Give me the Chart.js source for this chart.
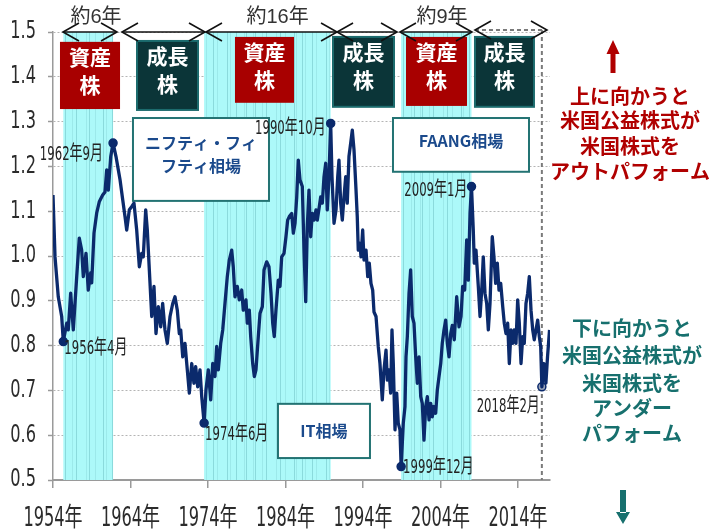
<!DOCTYPE html>
<html>
<head>
<meta charset="utf-8">
<script src="https://cdn.jsdelivr.net/npm/chart.js@4.4.1/dist/chart.umd.min.js"></script>
<style>
  body { margin: 0; background: #fff; }
  canvas { display: block; }
</style>
</head>
<body>
<canvas id="chart" width="726" height="531"></canvas>
<script>
// 米国公益株式 / 米国株式 (相対株価)
var years = [
  1955.00, 1955.26, 1955.68, 1956.12, 1956.33, 1956.77, 1956.97, 1957.28, 1957.62, 1958.06,
  1958.39, 1958.70, 1958.91, 1959.26, 1959.55, 1959.86, 1959.99, 1960.29, 1960.64, 1960.97,
  1961.41, 1961.71, 1961.93, 1962.14, 1962.45, 1962.75, 1963.13, 1963.43, 1963.65, 1964.00,
  1964.29, 1964.51, 1964.85, 1965.15, 1965.45, 1965.80, 1966.14, 1966.45, 1966.65, 1966.96,
  1967.17, 1967.43, 1967.74, 1968.03, 1968.29, 1968.59, 1968.90, 1969.15, 1969.45, 1969.75,
  1970.10, 1970.45, 1970.74, 1971.04, 1971.30, 1971.48, 1971.74, 1972.03, 1972.33, 1972.59,
  1972.90, 1973.19, 1973.41, 1973.67, 1973.97, 1974.19, 1974.50, 1974.74, 1975.04, 1975.35,
  1975.61, 1975.90, 1976.12, 1976.33, 1976.64, 1976.90, 1977.19, 1977.49, 1977.75, 1978.06,
  1978.26, 1978.48, 1978.78, 1979.04, 1979.35, 1979.55, 1979.90, 1980.07, 1980.33, 1980.51,
  1980.77, 1980.98, 1981.19, 1981.49, 1981.71, 1982.01, 1982.23, 1982.57, 1982.87, 1983.13,
  1983.35, 1983.55, 1983.77, 1984.07, 1984.29, 1984.51, 1984.81, 1985.06, 1985.28, 1985.49,
  1985.80, 1986.01, 1986.23, 1986.45, 1986.65, 1986.87, 1987.17, 1987.39, 1987.61, 1987.81,
  1988.03, 1988.25, 1988.46, 1988.68, 1988.94, 1989.10, 1989.36, 1989.54, 1989.75, 1989.97,
  1990.19, 1990.39, 1990.61, 1990.83, 1991.00, 1991.26, 1991.52, 1991.74, 1991.90, 1992.12,
  1992.33, 1992.55, 1992.77, 1992.97, 1993.19, 1993.41, 1993.62, 1993.84, 1994.10, 1994.26,
  1994.39, 1994.61, 1994.74, 1994.96, 1995.13, 1995.39, 1995.61, 1995.81, 1996.03, 1996.25,
  1996.42, 1996.68, 1996.97, 1997.19, 1997.49, 1997.71, 1997.97, 1998.14, 1998.35, 1998.57,
  1998.74, 1998.91, 1999.13, 1999.35, 1999.55, 1999.77, 1999.92, 2000.20, 2000.42, 2000.55,
  2000.72, 2000.94, 2001.15, 2001.36, 2001.58, 2001.80, 2002.01, 2002.23, 2002.45, 2002.65,
  2002.87, 2003.09, 2003.30, 2003.52, 2003.74, 2003.94, 2004.16, 2004.38, 2004.59, 2004.81,
  2005.03, 2005.23, 2005.45, 2005.67, 2005.88, 2006.10, 2006.32, 2006.52, 2006.78, 2007.09,
  2007.39, 2007.65, 2007.86, 2008.12, 2008.38, 2008.59, 2008.81, 2009.00, 2009.23, 2009.36,
  2009.58, 2009.88, 2010.10, 2010.32, 2010.52, 2010.74, 2010.96, 2011.17, 2011.39, 2011.68,
  2011.90, 2012.12, 2012.33, 2012.55, 2012.77, 2013.03, 2013.23, 2013.45, 2013.67, 2013.88,
  2014.10, 2014.32, 2014.52, 2014.74, 2014.96, 2015.17, 2015.39, 2015.61, 2015.81, 2016.03,
  2016.25, 2016.46, 2016.68, 2016.90, 2017.10, 2017.32, 2017.54, 2017.75, 2017.93, 2018.08,
  2018.35, 2018.60, 2018.81, 2019.07
];
var ratio = [
  1.136, 0.998, 0.909, 0.865, 0.809, 0.850, 0.835, 0.917, 0.835, 0.954,
  1.040, 1.013, 0.954, 1.006, 0.924, 0.962, 0.940, 1.051, 1.096, 1.121,
  1.136, 1.143, 1.192, 1.147, 1.222, 1.252, 1.222, 1.192, 1.170, 1.125,
  1.088, 1.058, 1.103, 1.110, 1.118, 1.058, 0.976, 1.006, 0.998, 1.103,
  1.058, 0.969, 0.865, 0.932, 0.827, 0.887, 0.842, 0.894, 0.835, 0.805,
  0.865, 0.894, 0.909, 0.879, 0.827, 0.835, 0.775, 0.805, 0.746, 0.694,
  0.760, 0.716, 0.753, 0.708, 0.746, 0.686, 0.627, 0.701, 0.746, 0.679,
  0.760, 0.731, 0.798, 0.746, 0.805, 0.835, 0.894, 0.954, 0.991, 1.013,
  0.976, 0.909, 0.932, 0.902, 0.924, 0.879, 0.902, 0.850, 0.879, 0.820,
  0.760, 0.731, 0.746, 0.820, 0.872, 0.887, 0.969, 0.987, 0.976, 0.917,
  0.850, 0.820, 0.879, 0.946, 0.932, 0.998, 1.006, 1.043, 1.080, 1.088,
  1.095, 1.051, 1.073, 1.132, 1.214, 1.170, 1.155, 1.013, 0.898, 1.065,
  1.147, 1.043, 1.095, 1.080, 1.103, 1.080, 1.110, 1.132, 1.118, 1.177,
  1.207, 1.103, 1.177, 1.296, 1.177, 1.073, 1.103, 1.177, 1.214, 1.118,
  1.080, 1.132, 1.177, 1.118, 1.222, 1.252, 1.281, 1.237, 1.147, 1.088,
  1.013, 1.028, 0.998, 1.058, 0.991, 1.013, 0.954, 0.984, 0.939, 0.924,
  0.875, 0.865, 0.798, 0.760, 0.679, 0.746, 0.790, 0.723, 0.746, 0.694,
  0.835, 0.760, 0.612, 0.694, 0.627, 0.612, 0.530, 0.627, 0.664, 0.775,
  0.820, 0.917, 0.969, 0.865, 0.850, 0.775, 0.716, 0.775, 0.686, 0.671,
  0.589, 0.664, 0.686, 0.634, 0.671, 0.641, 0.664, 0.649, 0.701, 0.731,
  0.760, 0.805, 0.835, 0.857, 0.805, 0.775, 0.827, 0.845, 0.813, 0.909,
  0.842, 0.865, 0.932, 0.924, 1.036, 0.946, 1.095, 1.155, 1.058, 0.984,
  1.013, 0.932, 0.865, 0.924, 0.998, 0.917, 0.894, 0.835, 0.894, 1.043,
  0.998, 0.939, 0.984, 0.924, 0.939, 0.887, 0.850, 0.827, 0.850, 0.760,
  0.835, 0.805, 0.835, 0.805, 0.902, 0.850, 0.760, 0.820, 0.805, 0.894,
  0.917, 0.954, 0.879, 0.835, 0.813, 0.835, 0.857, 0.820, 0.798, 0.708,
  0.760, 0.716, 0.775, 0.835
];

var xTickYears = [1955, 1965, 1975, 1985, 1995, 2005, 2015];
var xTickLabels = ['1954年', '1964年', '1974年', '1984年', '1994年', '2004年', '2014年'];
var yTicks = [0.5, 0.6, 0.7, 0.8, 0.9, 1.0, 1.1, 1.2, 1.3, 1.4, 1.5];

// 公益株が優勢だった期間
var bandStart = [1956.33, 1974.5, 1999.92];
var bandEnd = [1962.75, 1990.83, 2009.0];

// 山と谷
var markYears = [1956.33, 1962.75, 1974.5, 1990.83, 1999.92, 2009.0, 2018.08];
var markValues = [0.809, 1.252, 0.627, 1.296, 0.530, 1.155, 0.708];
var markLabels = ['1956年4月', '1962年9月', '1974年6月', '1990年10月', '1999年12月', '2009年1月', '2018年2月'];

// 期間の矢印
var periodFrom = [1956.29, 1963.90, 1974.74, 1991.65, 1999.77];
var periodTo = [1963.26, 1974.61, 1991.65, 1999.39, 2009.06];
var periodLabels = ['約6年', '', '約16年', '', '約9年'];

var NAVY = '#0b2a6c';
var NARROW = "'Liberation Sans Narrow', 'DejaVu Sans Condensed', 'Noto Sans CJK JP', sans-serif";
var CJK = "'Noto Sans CJK JP', 'Noto Sans', sans-serif";

// label placement next to each marker: dx, dy, align
var markLabelPos = [[1, 7, 'left'], [-10, 12, 'right'], [1, 12, 'left'], [-5, 5, 'right'],
                    [2, 1, 'left'], [-4, 4, 'right'], [-2, 20, 'right']];

var stockBoxes = [
  { text: ['資産', '株'], x0: 1955.90, x1: 1963.65, top: 1.478, bottom: 1.328, red: true },
  { text: ['成長', '株'], x0: 1965.84, x1: 1973.71, top: 1.480, bottom: 1.326, red: false },
  { text: ['資産', '株'], x0: 1978.48, x1: 1986.10, top: 1.489, bottom: 1.342, red: true },
  { text: ['成長', '株'], x0: 1991.13, x1: 1999.00, top: 1.489, bottom: 1.333, red: false },
  { text: ['資産', '株'], x0: 2000.55, x1: 2008.42, top: 1.489, bottom: 1.335, red: true },
  { text: ['成長', '株'], x0: 2009.45, x1: 2017.06, top: 1.489, bottom: 1.333, red: false }
];

var themeBoxes = [
  { text: ['ニフティ・フィ', 'フティ相場'], dy: [25, 48], x0: 1965.32, x1: 1982.87, top: 1.308, bottom: 1.123 },
  { text: ['IT相場'], dy: [27], x0: 1984.03, x1: 1995.90, top: 0.670, bottom: 0.549 },
  { text: ['FAANG相場'], dy: [23], x0: 1998.87, x1: 2016.42, top: 1.308, bottom: 1.188 }
];

// spacing of the faint stripes inside the shaded periods (years)
var stripeSteps = [0.35, 0.9, 0.5, 1.3, 0.45, 0.7, 1.1, 0.3, 0.8];

function tallText(ctx, text, x, y, align, size, sy, color, font) {
  ctx.save();
  ctx.font = size + 'px ' + (font || NARROW);
  ctx.fillStyle = color;
  ctx.textAlign = align;
  ctx.textBaseline = 'middle';
  ctx.translate(x, y);
  ctx.scale(1, sy);
  ctx.fillText(text, 0, 0);
  ctx.restore();
}

function chevron(ctx, x, y, dir) {
  ctx.beginPath();
  ctx.moveTo(x - dir * 16, y - 9);
  ctx.lineTo(x, y);
  ctx.lineTo(x - dir * 16, y + 9);
  ctx.stroke();
}

function blockArrow(ctx, cx, top, bottom, color, down) {
  ctx.save();
  ctx.fillStyle = color;
  ctx.beginPath();
  if (!down) {
    ctx.rect(cx - 2.5, top + 13, 5, bottom - top - 13);
    ctx.moveTo(cx - 6.5, top + 14);
    ctx.lineTo(cx, top);
    ctx.lineTo(cx + 6.5, top + 14);
  } else {
    ctx.rect(cx - 3, top, 6, bottom - top - 11);
    ctx.moveTo(cx - 7, bottom - 12);
    ctx.lineTo(cx, bottom);
    ctx.lineTo(cx + 7, bottom - 12);
  }
  ctx.fill();
  ctx.restore();
}

var decor = {
  id: 'decor',
  beforeDatasetsDraw: function (chart) {
    var ctx = chart.ctx, a = chart.chartArea, x = chart.scales.x, y = chart.scales.y;
    ctx.save();
    // shaded periods
    var k = 0;
    bandStart.forEach(function (s, i) {
      var x0 = x.getPixelForValue(s), x1 = x.getPixelForValue(bandEnd[i]);
      ctx.fillStyle = '#acf9f9';
      ctx.fillRect(x0, a.top, x1 - x0, a.bottom - a.top);
      ctx.lineWidth = 1;
      for (var t = s + 0.2; t < bandEnd[i] - 0.15; t += stripeSteps[k % stripeSteps.length]) {
        var px = Math.round(x.getPixelForValue(t)) + 0.5;
        ctx.strokeStyle = (k % 2 === 0) ? 'rgba(100,180,185,0.45)' : 'rgba(120,195,200,0.3)';
        ctx.beginPath();
        ctx.moveTo(px, a.top);
        ctx.lineTo(px, a.bottom);
        ctx.stroke();
        k++;
      }
    });

    // dashed line at the latest trough
    var dx = x.getPixelForValue(markYears[6]);
    ctx.strokeStyle = '#7a7a7a';
    ctx.lineWidth = 2;
    ctx.setLineDash([4, 3]);
    ctx.beginPath();
    ctx.moveTo(dx, a.top - 2);
    ctx.lineTo(dx, a.bottom);
    ctx.moveTo(x.getPixelForValue(2009.45), a.top - 2);
    ctx.lineTo(x.getPixelForValue(2018.74), a.top - 2);
    ctx.stroke();
    ctx.setLineDash([]);

    // theme boxes
    themeBoxes.forEach(function (b) {
      var x0 = x.getPixelForValue(b.x0), x1 = x.getPixelForValue(b.x1);
      var y0 = y.getPixelForValue(b.top), y1 = y.getPixelForValue(b.bottom);
      ctx.fillStyle = '#fff';
      ctx.fillRect(x0, y0, x1 - x0, y1 - y0);
      ctx.strokeStyle = '#237373';
      ctx.lineWidth = 2;
      ctx.strokeRect(x0, y0, x1 - x0, y1 - y0);
      b.text.forEach(function (t, j) {
        ctx.font = 'bold 16px ' + CJK;
        ctx.fillStyle = '#1b4a8c';
        ctx.textAlign = 'center';
        ctx.textBaseline = 'middle';
        ctx.fillText(t, (x0 + x1) / 2, y0 + b.dy[j]);
      });
    });

    // 資産株 / 成長株
    stockBoxes.forEach(function (b) {
      var x0 = x.getPixelForValue(b.x0), x1 = x.getPixelForValue(b.x1);
      var y0 = y.getPixelForValue(b.top), y1 = y.getPixelForValue(b.bottom);
      ctx.fillStyle = b.red ? '#a80000' : '#0b3538';
      ctx.fillRect(x0, y0, x1 - x0, y1 - y0);
      if (!b.red) {
        ctx.strokeStyle = '#1c6b6d';
        ctx.lineWidth = 2;
        ctx.strokeRect(x0, y0, x1 - x0, y1 - y0);
      }
      ctx.font = 'bold 21px ' + CJK;
      ctx.fillStyle = '#fff';
      ctx.textAlign = 'center';
      ctx.textBaseline = 'middle';
      ctx.fillText(b.text[0], (x0 + x1) / 2, y0 + 15);
      ctx.fillText(b.text[1], (x0 + x1) / 2, y0 + 43);
    });
    ctx.restore();
  },
  afterDraw: function (chart) {
    var ctx = chart.ctx, a = chart.chartArea, x = chart.scales.x, y = chart.scales.y;

    // tick labels
    yTicks.forEach(function (v) {
      tallText(ctx, v.toFixed(1), a.left - 17, y.getPixelForValue(v), 'right', 18, 1.35, '#2b2b2b');
    });
    xTickYears.forEach(function (v, i) {
      tallText(ctx, xTickLabels[i], x.getPixelForValue(v), a.bottom + 39, 'center', 18, 1.45, '#2b2b2b');
    });

    // marker labels
    markYears.forEach(function (t, i) {
      var p = markLabelPos[i];
      tallText(ctx, markLabels[i], x.getPixelForValue(t) + p[0], y.getPixelForValue(markValues[i]) + p[1],
        p[2], 13, 1.55, '#222');
    });

    // period arrows
    ctx.save();
    ctx.strokeStyle = '#111';
    ctx.lineWidth = 1.6;
    var ay = a.top;
    periodFrom.forEach(function (f, i) {
      var x0 = x.getPixelForValue(f), x1 = x.getPixelForValue(periodTo[i]);
      ctx.beginPath();
      ctx.moveTo(x0, ay);
      ctx.lineTo(x1, ay);
      ctx.stroke();
      chevron(ctx, x0, ay, -1);
      chevron(ctx, x1, ay, 1);
      if (periodLabels[i]) {
        ctx.font = "20px 'Liberation Sans', " + CJK;
        ctx.fillStyle = '#333';
        ctx.textAlign = 'center';
        ctx.textBaseline = 'middle';
        ctx.fillText(periodLabels[i], (x0 + x1) / 2 + 6, ay - 15);
      }
    });
    chevron(ctx, x.getPixelForValue(2009.45), a.top - 2, -1);
    chevron(ctx, x.getPixelForValue(2018.74), a.top - 2, 1);
    ctx.restore();

    // side notes
    var cx = a.right + 80;
    ctx.save();
    ctx.font = 'bold 20px ' + CJK;
    ctx.textAlign = 'center';
    ctx.textBaseline = 'middle';
    ctx.fillStyle = '#b00000';
    ['上に向かうと', '米国公益株式が', '米国株式を', 'アウトパフォーム'].forEach(function (t, i) {
      ctx.fillText(t, cx, [96, 120, 146, 171][i]);
    });
    ctx.fillStyle = '#17706e';
    ['下に向かうと', '米国公益株式が', '米国株式を', 'アンダー', 'パフォーム'].forEach(function (t, i) {
      ctx.fillText(t, cx + 2, [328, 355, 383, 408, 433][i]);
    });
    ctx.restore();
    blockArrow(ctx, a.right + 63, 40, 73, '#b00000', false);
    blockArrow(ctx, a.right + 73, 490, 524, '#17706e', true);
  }
};

var ctx = document.getElementById('chart');

var chartGraph = new Chart(ctx, {
  type: 'line',
  data: {
    datasets: [{
        label: '米国公益株式/米国株式',
        data: years.map(function (t, i) { return { x: t, y: ratio[i] }; }),
        borderColor: NAVY,
        borderWidth: 3.3,
        borderJoinStyle: 'round',
        pointRadius: 0,
        tension: 0
      },
      {
        label: 'markers',
        data: markYears.map(function (t, i) { return { x: t, y: markValues[i] }; }),
        showLine: false,
        pointRadius: 4,
        pointBorderWidth: 1.5,
        pointBorderColor: NAVY,
        pointBackgroundColor: [NAVY, NAVY, NAVY, NAVY, NAVY, NAVY, '#9aa4b8']
      }
    ]
  },
  options: {
    responsive: false,
    animation: false,
    devicePixelRatio: 1,
    layout: { padding: { left: 0, right: 176, top: 32, bottom: 0 } },
    plugins: { legend: { display: false }, tooltip: { enabled: false } },
    scales: {
      x: {
        type: 'linear',
        min: 1955,
        max: 2019.13,
        afterBuildTicks: function (s) {
          s.ticks = xTickYears.map(function (v) { return { value: v }; });
        },
        afterFit: function (s) { s.height = 51; },
        ticks: { display: false },
        grid: { drawOnChartArea: false, drawTicks: true, tickLength: 8, color: '#9a9a9a', lineWidth: 1.5 },
        border: { color: '#9a9a9a', width: 2 }
      },
      y: {
        min: 0.5,
        max: 1.5,
        afterBuildTicks: function (s) {
          s.ticks = yTicks.map(function (v) { return { value: v }; });
        },
        afterFit: function (s) { s.width = 53; },
        ticks: { display: false },
        grid: { color: '#b4b4b4', lineWidth: 1, tickLength: 5, tickColor: '#9a9a9a', tickWidth: 1.5 },
        border: { color: '#9a9a9a', width: 1.5, dash: [2, 2] }
      }
    }
  },
  plugins: [decor]
});
</script>
</body>
</html>
